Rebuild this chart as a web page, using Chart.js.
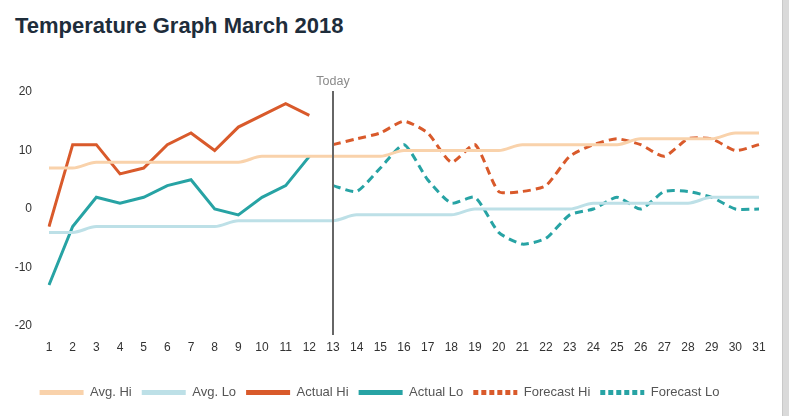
<!DOCTYPE html>
<html>
<head>
<meta charset="utf-8">
<script src="https://cdn.jsdelivr.net/npm/chart.js@4/dist/chart.umd.min.js"></script>
<style>
  html, body { margin: 0; padding: 0; background: #fff; }
  body { width: 789px; height: 416px; position: relative; overflow: hidden; }
  #title { position: absolute; left: 15px; top: 15px; font: bold 22px "Liberation Sans", Arial, sans-serif; line-height: 22px; color: #1e2d3b; white-space: nowrap; }
  #wrap { position: absolute; left: 0; top: 0; width: 783px; height: 416px; }
  #bar { position: absolute; left: 782px; top: 0; width: 7px; height: 416px; background: #dadada; border-left: 1px solid #c9c9c9; box-sizing: border-box; }
</style>
</head>
<body>
<div id="title">Temperature Graph March 2018</div>
<div id="wrap"><canvas id="c" width="783" height="416"></canvas></div>
<div id="bar"></div>
<script>
const days = Array.from({length: 31}, (_, i) => String(i + 1));
const yTicks = [-20, -10, 0, 10, 20];
const avgHi = [7,7,8,8,8,8,8,8,8,9,9,9,9,9,9,10,10,10,10,10,11,11,11,11,11,12,12,12,12,13,13];
const avgLo = [-4,-4,-3,-3,-3,-3,-3,-3,-2,-2,-2,-2,-2,-1,-1,-1,-1,-1,0,0,0,0,0,1,1,1,1,1,2,2,2];
const actualHi = [-3,11,11,6,7,11,13,10,14,16,18,16];
const actualLo = [-13,-3,2,1,2,4,5,0,-1,2,4,9];
const forecastHi = [11,12,13,15,13,8,11,3,3,4,9,11,12,11,9,12,12,10,11];
const forecastLo = [4,3,7,11,5,1,2,-4,-6,-5,-1,0,2,0,3,3,2,0,0];
const todayLabel = "13";
const todayText = "Today";

const forecastStart = 12;
const pad = (arr, start) => Array.from({length: 31}, (_, i) => (i >= start && i - start < arr.length) ? arr[i - start] : null);

const ORANGE = '#d95a2b', TEAL = '#27a3a4', PEACH = '#f9d2ab', LBLUE = '#bde0e7';
const FONT = '"Liberation Sans", Arial, sans-serif';

const todayPlugin = {
  id: 'today',
  afterDatasetsDraw(chart) {
    const {ctx, chartArea, scales} = chart;
    const x = Math.round(scales.x.getPixelForValue(days.indexOf(todayLabel))) ;
    ctx.save();
    ctx.strokeStyle = '#666';
    ctx.lineWidth = 2;
    ctx.beginPath();
    ctx.moveTo(x, chartArea.top - 1);
    ctx.lineTo(x, chartArea.bottom + 9);
    ctx.stroke();
    ctx.fillStyle = '#8a8a8a';
    ctx.font = '12.5px ' + FONT;
    ctx.textAlign = 'center';
    ctx.textBaseline = 'alphabetic';
    ctx.fillText(todayText, x, chartArea.top - 7);
    ctx.restore();
  }
};

new Chart(document.getElementById('c'), {
  type: 'line',
  data: {
    labels: days,
    datasets: [
      { label: 'Avg. Hi', data: avgHi, borderColor: PEACH, backgroundColor: PEACH, borderWidth: 3, cubicInterpolationMode: 'monotone' },
      { label: 'Avg. Lo', data: avgLo, borderColor: LBLUE, backgroundColor: LBLUE, borderWidth: 3, cubicInterpolationMode: 'monotone' },
      { label: 'Actual Hi', data: pad(actualHi, 0), borderColor: ORANGE, backgroundColor: ORANGE, borderWidth: 3, tension: 0 },
      { label: 'Actual Lo', data: pad(actualLo, 0), borderColor: TEAL, backgroundColor: TEAL, borderWidth: 3, tension: 0 },
      { label: 'Forecast Hi', data: pad(forecastHi, forecastStart), borderColor: ORANGE, backgroundColor: ORANGE, borderWidth: 3, borderDash: [8, 5], tension: 0.2 },
      { label: 'Forecast Lo', data: pad(forecastLo, forecastStart), borderColor: TEAL, backgroundColor: TEAL, borderWidth: 3, borderDash: [8, 5], tension: 0.2 }
    ]
  },
  options: {
    responsive: false,
    animation: false,
    devicePixelRatio: 1,
    layout: { padding: { top: 92, right: 24, bottom: 7, left: 0 } },
    elements: { point: { radius: 0, hoverRadius: 0 }, line: { borderCapStyle: 'butt', borderJoinStyle: 'miter' } },
    scales: {
      x: {
        grid: { display: false, drawTicks: false },
        border: { display: false },
        ticks: { color: '#333', font: { family: FONT, size: 12 }, padding: 14, maxRotation: 0, autoSkip: false },
        afterFit(axis) { axis.height = 50; }
      },
      y: {
        min: -20, max: 20,
        grid: { display: false, drawTicks: false },
        border: { display: false },
        afterBuildTicks(axis) { axis.ticks = yTicks.map(v => ({ value: v })); },
        ticks: { color: '#333', font: { family: FONT, size: 12 }, padding: 17 },
        afterFit(axis) { axis.width = 49; }
      }
    },
    plugins: {
      tooltip: { enabled: false },
      legend: {
        position: 'bottom',
        labels: {
          color: '#555',
          font: { family: FONT, size: 13 },
          usePointStyle: true,
          pointStyle: 'line',
          pointStyleWidth: 44,
          boxHeight: 5,
          padding: 10,
          generateLabels(chart) {
            const items = Chart.defaults.plugins.legend.labels.generateLabels(chart);
            return items.map(it => {
              const ds = chart.data.datasets[it.datasetIndex];
              it.lineWidth = 5;
              it.strokeStyle = ds.borderColor;
              it.lineDash = ds.borderDash ? [5, 3] : [];
              it.pointStyle = 'line';
              return it;
            });
          }
        }
      }
    }
  },
  plugins: [todayPlugin]
});
</script>
</body>
</html>
